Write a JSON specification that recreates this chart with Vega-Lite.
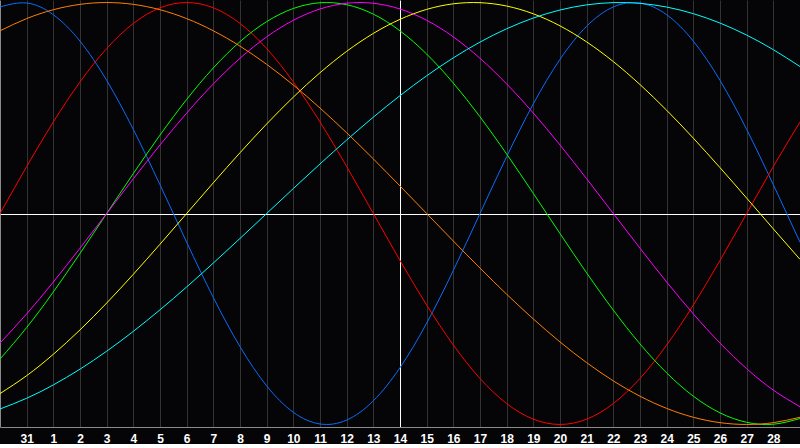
{
  "$schema": "https://vega.github.io/schema/vega-lite/v6.json",
  "width": 800,
  "height": 427,
  "padding": 0,
  "background": "#050508",
  "config": {"view": {"stroke": null}},
  "data": {
    "values": [
      {"d":0,"s":"physical","v":0.9791},{"d":1,"s":"physical","v":0.9977},{"d":2,"s":"physical","v":0.9423},{"d":3,"s":"physical","v":0.8170},{"d":4,"s":"physical","v":0.6311},{"d":5,"s":"physical","v":0.3984},{"d":6,"s":"physical","v":0.1362},{"d":7,"s":"physical","v":-0.1362},{"d":8,"s":"physical","v":-0.3984},{"d":9,"s":"physical","v":-0.6311},{"d":10,"s":"physical","v":-0.8170},{"d":11,"s":"physical","v":-0.9423},{"d":12,"s":"physical","v":-0.9977},{"d":13,"s":"physical","v":-0.9791},{"d":14,"s":"physical","v":-0.8879},{"d":15,"s":"physical","v":-0.7308},{"d":16,"s":"physical","v":-0.5196},{"d":17,"s":"physical","v":-0.2698},{"d":18,"s":"physical","v":0},{"d":19,"s":"physical","v":0.2698},{"d":20,"s":"physical","v":0.5196},{"d":21,"s":"physical","v":0.7308},{"d":22,"s":"physical","v":0.8879},{"d":23,"s":"physical","v":0.9791},{"d":24,"s":"physical","v":0.9977},{"d":25,"s":"physical","v":0.9423},{"d":26,"s":"physical","v":0.8170},{"d":27,"s":"physical","v":0.6311},{"d":28,"s":"physical","v":0.3984},{"d":29,"s":"physical","v":0.1362},{"d":30,"s":"physical","v":-0.1362},
      {"d":0,"s":"emotional","v":0},{"d":1,"s":"emotional","v":0.2225},{"d":2,"s":"emotional","v":0.4339},{"d":3,"s":"emotional","v":0.6235},{"d":4,"s":"emotional","v":0.7818},{"d":5,"s":"emotional","v":0.9010},{"d":6,"s":"emotional","v":0.9749},{"d":7,"s":"emotional","v":1},{"d":8,"s":"emotional","v":0.9749},{"d":9,"s":"emotional","v":0.9010},{"d":10,"s":"emotional","v":0.7818},{"d":11,"s":"emotional","v":0.6235},{"d":12,"s":"emotional","v":0.4339},{"d":13,"s":"emotional","v":0.2225},{"d":14,"s":"emotional","v":0},{"d":15,"s":"emotional","v":-0.2225},{"d":16,"s":"emotional","v":-0.4339},{"d":17,"s":"emotional","v":-0.6235},{"d":18,"s":"emotional","v":-0.7818},{"d":19,"s":"emotional","v":-0.9010},{"d":20,"s":"emotional","v":-0.9749},{"d":21,"s":"emotional","v":-1},{"d":22,"s":"emotional","v":-0.9749},{"d":23,"s":"emotional","v":-0.9010},{"d":24,"s":"emotional","v":-0.7818},{"d":25,"s":"emotional","v":-0.6235},{"d":26,"s":"emotional","v":-0.4339},{"d":27,"s":"emotional","v":-0.2225},{"d":28,"s":"emotional","v":0},{"d":29,"s":"emotional","v":0.2225},{"d":30,"s":"emotional","v":0.4339},
      {"d":0,"s":"intellectual","v":-0.6901},{"d":1,"s":"intellectual","v":-0.5406},{"d":2,"s":"intellectual","v":-0.3717},{"d":3,"s":"intellectual","v":-0.1893},{"d":4,"s":"intellectual","v":0},{"d":5,"s":"intellectual","v":0.1893},{"d":6,"s":"intellectual","v":0.3717},{"d":7,"s":"intellectual","v":0.5406},{"d":8,"s":"intellectual","v":0.6901},{"d":9,"s":"intellectual","v":0.8146},{"d":10,"s":"intellectual","v":0.9096},{"d":11,"s":"intellectual","v":0.9718},{"d":12,"s":"intellectual","v":0.9989},{"d":13,"s":"intellectual","v":0.9898},{"d":14,"s":"intellectual","v":0.9450},{"d":15,"s":"intellectual","v":0.8660},{"d":16,"s":"intellectual","v":0.7557},{"d":17,"s":"intellectual","v":0.6182},{"d":18,"s":"intellectual","v":0.4582},{"d":19,"s":"intellectual","v":0.2817},{"d":20,"s":"intellectual","v":0.0951},{"d":21,"s":"intellectual","v":-0.0951},{"d":22,"s":"intellectual","v":-0.2817},{"d":23,"s":"intellectual","v":-0.4582},{"d":24,"s":"intellectual","v":-0.6182},{"d":25,"s":"intellectual","v":-0.7557},{"d":26,"s":"intellectual","v":-0.8660},{"d":27,"s":"intellectual","v":-0.9450},{"d":28,"s":"intellectual","v":-0.9898},{"d":29,"s":"intellectual","v":-0.9989},{"d":30,"s":"intellectual","v":-0.9718},
      {"d":0,"s":"intuitive","v":-0.6142},{"d":1,"s":"intuitive","v":-0.4759},{"d":2,"s":"intuitive","v":-0.3247},{"d":3,"s":"intuitive","v":-0.1646},{"d":4,"s":"intuitive","v":0},{"d":5,"s":"intuitive","v":0.1646},{"d":6,"s":"intuitive","v":0.3247},{"d":7,"s":"intuitive","v":0.4759},{"d":8,"s":"intuitive","v":0.6142},{"d":9,"s":"intuitive","v":0.7357},{"d":10,"s":"intuitive","v":0.8372},{"d":11,"s":"intuitive","v":0.9158},{"d":12,"s":"intuitive","v":0.9694},{"d":13,"s":"intuitive","v":0.9966},{"d":14,"s":"intuitive","v":0.9966},{"d":15,"s":"intuitive","v":0.9694},{"d":16,"s":"intuitive","v":0.9158},{"d":17,"s":"intuitive","v":0.8372},{"d":18,"s":"intuitive","v":0.7357},{"d":19,"s":"intuitive","v":0.6142},{"d":20,"s":"intuitive","v":0.4759},{"d":21,"s":"intuitive","v":0.3247},{"d":22,"s":"intuitive","v":0.1646},{"d":23,"s":"intuitive","v":0},{"d":24,"s":"intuitive","v":-0.1646},{"d":25,"s":"intuitive","v":-0.3247},{"d":26,"s":"intuitive","v":-0.4759},{"d":27,"s":"intuitive","v":-0.6142},{"d":28,"s":"intuitive","v":-0.7357},{"d":29,"s":"intuitive","v":-0.8372},{"d":30,"s":"intuitive","v":-0.9158},
      {"d":0,"s":"aesthetic","v":-0.8536},{"d":1,"s":"aesthetic","v":-0.7687},{"d":2,"s":"aesthetic","v":-0.6673},{"d":3,"s":"aesthetic","v":-0.5517},{"d":4,"s":"aesthetic","v":-0.4244},{"d":5,"s":"aesthetic","v":-0.2881},{"d":6,"s":"aesthetic","v":-0.1456},{"d":7,"s":"aesthetic","v":0},{"d":8,"s":"aesthetic","v":0.1456},{"d":9,"s":"aesthetic","v":0.2881},{"d":10,"s":"aesthetic","v":0.4244},{"d":11,"s":"aesthetic","v":0.5517},{"d":12,"s":"aesthetic","v":0.6673},{"d":13,"s":"aesthetic","v":0.7687},{"d":14,"s":"aesthetic","v":0.8536},{"d":15,"s":"aesthetic","v":0.9203},{"d":16,"s":"aesthetic","v":0.9675},{"d":17,"s":"aesthetic","v":0.9940},{"d":18,"s":"aesthetic","v":0.9993},{"d":19,"s":"aesthetic","v":0.9834},{"d":20,"s":"aesthetic","v":0.9465},{"d":21,"s":"aesthetic","v":0.8894},{"d":22,"s":"aesthetic","v":0.8133},{"d":23,"s":"aesthetic","v":0.7200},{"d":24,"s":"aesthetic","v":0.6112},{"d":25,"s":"aesthetic","v":0.4894},{"d":26,"s":"aesthetic","v":0.3572},{"d":27,"s":"aesthetic","v":0.2174},{"d":28,"s":"aesthetic","v":0.0730},{"d":29,"s":"aesthetic","v":-0.0730},{"d":30,"s":"aesthetic","v":-0.2174},
      {"d":0,"s":"awareness","v":0.8660},{"d":1,"s":"awareness","v":0.9239},{"d":2,"s":"awareness","v":0.9659},{"d":3,"s":"awareness","v":0.9914},{"d":4,"s":"awareness","v":1},{"d":5,"s":"awareness","v":0.9914},{"d":6,"s":"awareness","v":0.9659},{"d":7,"s":"awareness","v":0.9239},{"d":8,"s":"awareness","v":0.8660},{"d":9,"s":"awareness","v":0.7934},{"d":10,"s":"awareness","v":0.7071},{"d":11,"s":"awareness","v":0.6088},{"d":12,"s":"awareness","v":0.5},{"d":13,"s":"awareness","v":0.3827},{"d":14,"s":"awareness","v":0.2588},{"d":15,"s":"awareness","v":0.1305},{"d":16,"s":"awareness","v":0},{"d":17,"s":"awareness","v":-0.1305},{"d":18,"s":"awareness","v":-0.2588},{"d":19,"s":"awareness","v":-0.3827},{"d":20,"s":"awareness","v":-0.5},{"d":21,"s":"awareness","v":-0.6088},{"d":22,"s":"awareness","v":-0.7071},{"d":23,"s":"awareness","v":-0.7934},{"d":24,"s":"awareness","v":-0.8660},{"d":25,"s":"awareness","v":-0.9239},{"d":26,"s":"awareness","v":-0.9659},{"d":27,"s":"awareness","v":-0.9914},{"d":28,"s":"awareness","v":-1},{"d":29,"s":"awareness","v":-0.9914},{"d":30,"s":"awareness","v":-0.9659},
      {"d":0,"s":"spiritual","v":-0.9267},{"d":1,"s":"spiritual","v":-0.8757},{"d":2,"s":"spiritual","v":-0.8125},{"d":3,"s":"spiritual","v":-0.7378},{"d":4,"s":"spiritual","v":-0.6528},{"d":5,"s":"spiritual","v":-0.5586},{"d":6,"s":"spiritual","v":-0.4566},{"d":7,"s":"spiritual","v":-0.3482},{"d":8,"s":"spiritual","v":-0.2349},{"d":9,"s":"spiritual","v":-0.1183},{"d":10,"s":"spiritual","v":0},{"d":11,"s":"spiritual","v":0.1183},{"d":12,"s":"spiritual","v":0.2349},{"d":13,"s":"spiritual","v":0.3482},{"d":14,"s":"spiritual","v":0.4566},{"d":15,"s":"spiritual","v":0.5586},{"d":16,"s":"spiritual","v":0.6528},{"d":17,"s":"spiritual","v":0.7378},{"d":18,"s":"spiritual","v":0.8125},{"d":19,"s":"spiritual","v":0.8757},{"d":20,"s":"spiritual","v":0.9267},{"d":21,"s":"spiritual","v":0.9646},{"d":22,"s":"spiritual","v":0.9890},{"d":23,"s":"spiritual","v":0.9996},{"d":24,"s":"spiritual","v":0.9961},{"d":25,"s":"spiritual","v":0.9786},{"d":26,"s":"spiritual","v":0.9473},{"d":27,"s":"spiritual","v":0.9028},{"d":28,"s":"spiritual","v":0.8456},{"d":29,"s":"spiritual","v":0.7765},{"d":30,"s":"spiritual","v":0.6966}
    ]
  },
  "mark": {"type": "line", "interpolate": "natural", "strokeWidth": 1, "clip": true},
  "encoding": {
    "x": {
      "field": "d",
      "type": "quantitative",
      "scale": {"domain": [0, 30], "nice": false, "zero": false},
      "axis": {
        "title": null,
        "values": [1,2,3,4,5,6,7,8,9,10,11,12,13,14,15,16,17,18,19,20,21,22,23,24,25,26,27,28,29],
        "labelExpr": "datum.value == 1 ? '31' : '' + (datum.value - 1)",
        "grid": true,
        "gridColor": {"condition": {"test": "datum.value == 15", "value": "#ffffff"}, "value": "#333333"},
        "gridWidth": 1,
        "ticks": false,
        "domainColor": "#8a8a8a",
        "labelColor": "#ffffff",
        "labelFont": "Liberation Sans",
        "labelFontWeight": "bold",
        "labelFontSize": 12,
        "labelPadding": 6,
        "labelOverlap": false
      }
    },
    "y": {
      "field": "v",
      "type": "quantitative",
      "scale": {"domain": [-1.012, 1.012], "nice": false, "zero": false},
      "axis": {
        "title": null,
        "values": [0],
        "grid": true,
        "gridColor": "#ffffff",
        "labels": false,
        "ticks": false,
        "domainColor": "#8a8a8a"
      }
    },
    "color": {
      "field": "s",
      "type": "nominal",
      "legend": null,
      "scale": {
        "domain": ["spiritual", "awareness", "aesthetic", "intuitive", "intellectual", "emotional", "physical"],
        "range": ["#00ffff", "#ff8000", "#ffff00", "#ff00ff", "#00ff00", "#ff0000", "#0a6cff"]
      }
    }
  }
}
